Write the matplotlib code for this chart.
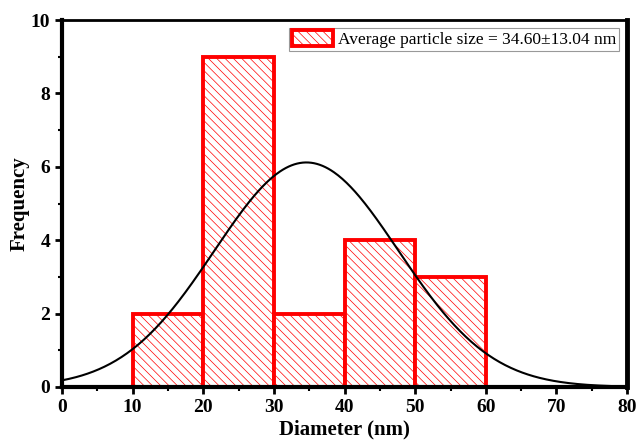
import numpy as np
import matplotlib
matplotlib.use("Agg")
import matplotlib.pyplot as plt

# histogram counts per 10 nm bin
bin_edges = [10, 20, 30, 40, 50, 60]
counts = [2, 9, 2, 4, 3]
mean_d = 34.60
sd_d = 13.04

plt.rcParams['font.family'] = 'Liberation Serif'
plt.rcParams['hatch.linewidth'] = 0.5
plt.rcParams['hatch.color'] = 'red'

fig = plt.figure(figsize=(6.36, 4.4), dpi=100)
ax = fig.add_axes([0.0975, 0.1205, 0.8885, 0.834])

lefts = bin_edges[:-1]
widths = np.diff(bin_edges)
ax.bar(lefts, counts, width=widths, align='edge', facecolor='white',
       edgecolor='red', linewidth=2.8, hatch='\\' * 4,
       label='Average particle size = 34.60\u00b113.04 nm', zorder=2)

# fitted normal curve scaled to counts
x = np.linspace(0, 80, 400)
n = sum(counts)
bw = 10
y = n * bw / (sd_d * np.sqrt(2 * np.pi)) * np.exp(-0.5 * ((x - mean_d) / sd_d) ** 2)
ax.plot(x, y, color='black', linewidth=1.5, zorder=3)

ax.set_xlim(0, 80)
ax.set_ylim(0, 10)
ax.set_xticks(range(0, 81, 10))
ax.set_yticks(range(0, 11, 2))
ax.set_xticks(range(5, 80, 10), minor=True)
ax.set_yticks(range(1, 10, 2), minor=True)
ax.tick_params(axis='both', which='major', direction='out', length=5, width=2,
               labelsize=14)
ax.tick_params(axis='both', which='minor', direction='out', length=3, width=1.5)
for lbl in ax.get_xticklabels() + ax.get_yticklabels():
    lbl.set_fontweight('bold')

for side in ['left', 'bottom']:
    ax.spines[side].set_linewidth(3)
ax.spines['top'].set_linewidth(2)
ax.spines['right'].set_linewidth(3.5)

ax.set_xlabel('Diameter (nm)', fontsize=15, fontweight='bold', labelpad=3)
ax.set_ylabel('Frequency', fontsize=15, fontweight='bold', labelpad=1)

leg = ax.legend(loc='upper right', fontsize=12.5, frameon=True, fancybox=False,
                edgecolor='gray', borderpad=0.15, handlelength=2.4,
                handleheight=1.0, handletextpad=0.3, borderaxespad=0.45)
leg.get_frame().set_linewidth(0.8)

fig.savefig('out.png', dpi=100)
